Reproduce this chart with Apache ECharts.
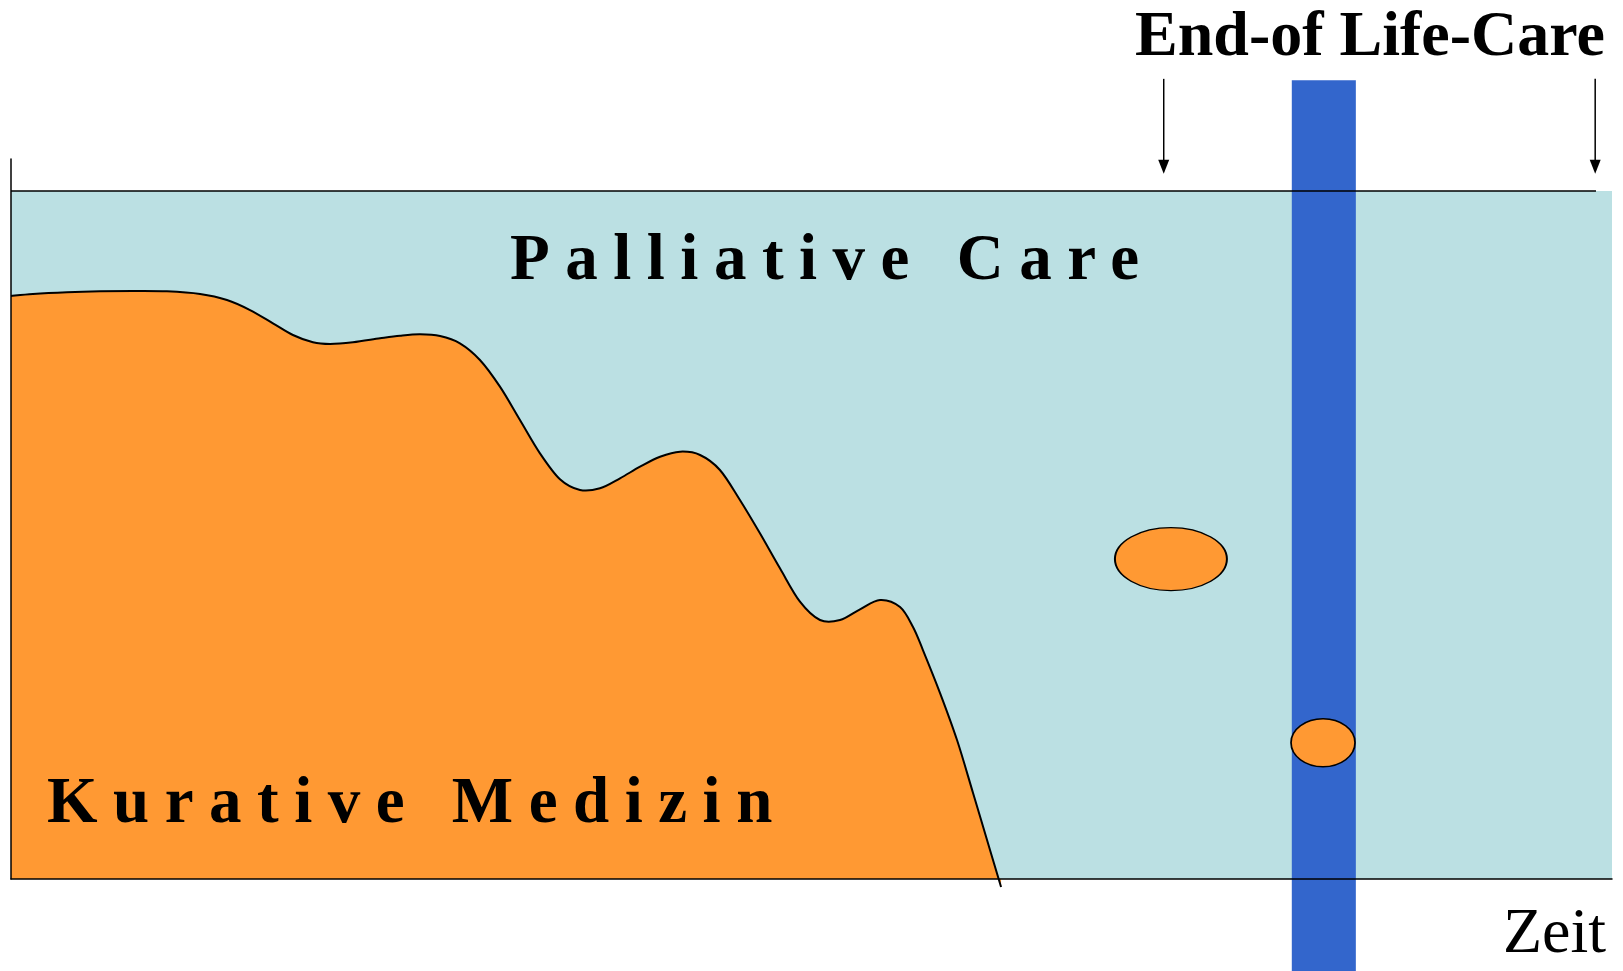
<!DOCTYPE html>
<html>
<head>
<meta charset="utf-8">
<script src="https://cdn.jsdelivr.net/npm/echarts@6/dist/echarts.min.js"></script>
<style>
  html, body { margin: 0; padding: 0; background: #fff; }
  #chart { width: 1623px; height: 971px; }
</style>
</head>
<body>
<div id="chart"></div>
<script>
// ---- data (axis units: time 0..100, level 0..100) ----
const curveX = [0, 1.37, 3.50, 5.56, 7.62, 9.74, 11.81, 13.49, 14.93, 16.36, 17.61, 18.86, 19.93, 21.36, 23.05, 24.30, 25.55, 26.80, 28.04, 29.29, 30.54, 31.79, 33.04, 34.29, 35.54, 36.79, 38.04, 39.29, 40.54, 41.79, 43.04, 44.28, 45.53, 46.78, 48.03, 49.28, 50.53, 51.78, 53.03, 54.28, 55.53, 56.34, 56.96, 58.03, 59.09, 60.09, 61.15, 61.84];
const curveY = [84.74, 85.03, 85.28, 85.42, 85.47, 85.42, 85.03, 84.16, 82.70, 80.77, 79.07, 78.01, 77.76, 78.01, 78.59, 78.97, 79.17, 78.92, 77.86, 75.44, 71.56, 66.72, 61.87, 58.10, 56.54, 56.79, 58.24, 59.93, 61.38, 62.11, 61.63, 59.45, 55.09, 50.25, 45.16, 40.31, 37.65, 37.65, 39.20, 40.55, 39.53, 36.63, 33.28, 27.03, 20.20, 12.50, 4.22, -1.16];
const palliativeX = [0, 100];
const palliativeLevel = 100;
const topLineEnd = 99;
const eolBarX = [80, 84];
const eolBarY = [-14, 116.1];
const ellipseX = [72.45, 81.95];
const ellipseY = [46.5, 19.8];
const arrowX = [72, 98.95];
const arrowY = [116.3, 102.5];
const labels = {
  title: 'End-of Life-Care',
  palliative: 'Palliative Care',
  curative: 'Kurative Medizin',
  time: 'Zeit'
};

// letter-spaced labels (canvas letterSpacing)
const SPACED = {};
SPACED[labels.palliative] = '15.5px';
SPACED[labels.curative] = '15.5px';
const _fillText = CanvasRenderingContext2D.prototype.fillText;
CanvasRenderingContext2D.prototype.fillText = function (t, x, y, w) {
  const ls = SPACED[t];
  if (ls && ('letterSpacing' in this)) {
    this.save();
    this.letterSpacing = ls;
    _fillText.call(this, t, x, y);
    this.restore();
    return;
  }
  if (w === undefined) return _fillText.call(this, t, x, y);
  return _fillText.call(this, t, x, y, w);
};

const ORANGE = '#FF9933';
const LIGHTBLUE = '#BBE0E3';
const BLUE = '#3366CC';
const SERIF = '"Liberation Serif", "Times New Roman", serif';

const curveData = curveX.map((x, i) => [x, curveY[i]]);

function f(v) { return v.toFixed(2); }

const chart = echarts.init(document.getElementById('chart'));
chart.setOption({
  animation: false,
  backgroundColor: '#fff',
  grid: { left: 11, right: 11, top: 159, bottom: 92, show: false },
  xAxis: {
    type: 'value', min: 0, max: 100, z: 10,
    axisLine: { show: true, onZero: true, lineStyle: { color: '#000', width: 1.5 } },
    axisTick: { show: false }, axisLabel: { show: false }, splitLine: { show: false }
  },
  yAxis: {
    type: 'value', min: 0, max: 104.65, z: 10,
    axisLine: { show: true, lineStyle: { color: '#000', width: 1.5 } },
    axisTick: { show: false }, axisLabel: { show: false }, splitLine: { show: false }
  },
  series: [
    {
      name: 'Palliative Care', type: 'line', z: 1, symbol: 'none',
      data: palliativeX.map(x => [x, palliativeLevel]),
      lineStyle: { width: 0 },
      areaStyle: { color: LIGHTBLUE, opacity: 1 }
    },
    {
      // smooth Catmull-Rom curve through all data points, drawn via the axes' scales
      name: 'Kurative Medizin', type: 'custom', z: 2, clip: false,
      data: curveData,
      renderItem: function (params, api) {
        if (params.dataIndexInside !== 0) return;
        const n = params.dataInsideLength;
        const P = [];
        for (let i = 0; i < n; i++) P.push(api.coord([api.value(0, i), api.value(1, i)]));
        let d = 'M' + f(P[0][0]) + ' ' + f(P[0][1]);
        for (let i = 0; i < n - 1; i++) {
          const p0 = P[i - 1] || P[i], p1 = P[i], p2 = P[i + 1], p3 = P[i + 2] || P[i + 1];
          const c1x = p1[0] + (p2[0] - p0[0]) / 6, c1y = p1[1] + (p2[1] - p0[1]) / 6;
          const c2x = p2[0] - (p3[0] - p1[0]) / 6, c2y = p2[1] - (p3[1] - p1[1]) / 6;
          d += ' C' + f(c1x) + ' ' + f(c1y) + ' ' + f(c2x) + ' ' + f(c2y) + ' ' + f(p2[0]) + ' ' + f(p2[1]);
        }
        const base = api.coord([0, 0])[1];
        const fillD = d + ' L' + f(P[n - 1][0]) + ' ' + f(base) + ' L' + f(P[0][0]) + ' ' + f(base) + ' Z';
        return {
          type: 'group',
          children: [
            { type: 'path', shape: { pathData: fillD }, style: { fill: ORANGE, stroke: null } },
            { type: 'path', shape: { pathData: d }, style: { fill: null, stroke: '#000', lineWidth: 2 } }
          ]
        };
      }
    },
    {
      name: 'End-of Life-Care', type: 'custom', z: 3, clip: false,
      data: [[eolBarX[0], eolBarX[1], eolBarY[0], eolBarY[1]]],
      renderItem: function (p, api) {
        const a = api.coord([api.value(0), api.value(3)]);
        const b = api.coord([api.value(1), api.value(2)]);
        return { type: 'rect', shape: { x: a[0], y: a[1], width: b[0] - a[0], height: b[1] - a[1] }, style: { fill: BLUE } };
      }
    },
    {
      name: 'Ereignisse', type: 'scatter', z: 4, symbol: 'circle',
      data: [
        { value: [ellipseX[0], ellipseY[0]], symbolSize: [112, 63] },
        { value: [ellipseX[1], ellipseY[1]], symbolSize: [64, 48] }
      ],
      itemStyle: { color: ORANGE, borderColor: '#000', borderWidth: 1.5, opacity: 1 }
    },
    {
      name: 'Grenze', type: 'line', z: 5, symbol: 'none',
      data: [[0, palliativeLevel], [topLineEnd, palliativeLevel]],
      lineStyle: { color: '#000', width: 1.5 }
    },
    {
      name: 'Pfeile', type: 'custom', z: 5, clip: false,
      data: arrowX.map(x => [x, arrowY[0], arrowY[1]]),
      renderItem: function (p, api) {
        const top = api.coord([api.value(0), api.value(1)]);
        const tip = api.coord([api.value(0), api.value(2)]);
        return {
          type: 'group',
          children: [
            { type: 'line', shape: { x1: top[0], y1: top[1], x2: tip[0], y2: tip[1] - 8 }, style: { stroke: '#000', lineWidth: 1.5 } },
            { type: 'polygon', shape: { points: [[tip[0], tip[1]], [tip[0] - 5.5, tip[1] - 14], [tip[0] + 5.5, tip[1] - 14]] }, style: { fill: '#000' } }
          ]
        };
      }
    }
  ],
  graphic: [
    { type: 'text', x: 1135, y: 38, z: 20, style: { text: labels.title, font: 'bold 64px ' + SERIF, fill: '#000', textAlign: 'left', textVerticalAlign: 'middle' } },
    { type: 'text', x: 510, y: 262, z: 20, style: { text: labels.palliative, font: 'bold 65px ' + SERIF, fill: '#000', textAlign: 'left', textVerticalAlign: 'middle' } },
    { type: 'text', x: 47, y: 805, z: 20, style: { text: labels.curative, font: 'bold 65px ' + SERIF, fill: '#000', textAlign: 'left', textVerticalAlign: 'middle' } },
    { type: 'text', x: 1503, y: 935, z: 20, style: { text: labels.time, font: '64px ' + SERIF, fill: '#000', textAlign: 'left', textVerticalAlign: 'middle' } }
  ]
});
</script>
</body>
</html>
